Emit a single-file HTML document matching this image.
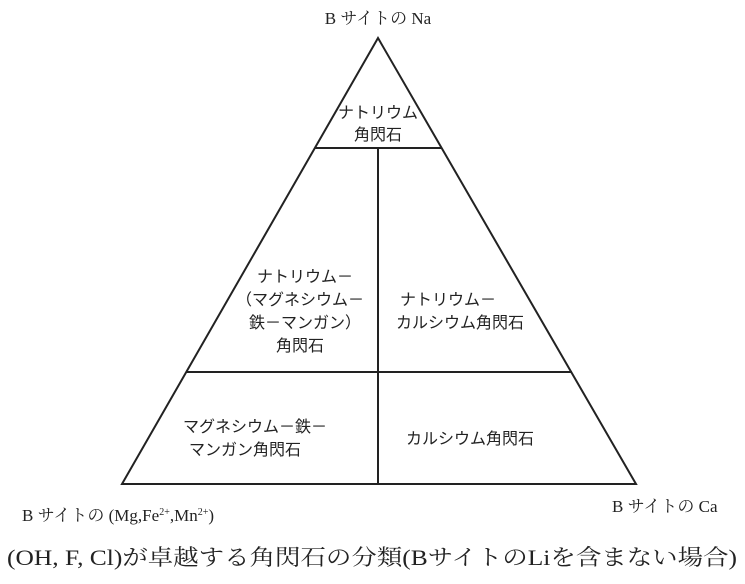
<!DOCTYPE html>
<html><head><meta charset="utf-8"><style>
body{margin:0;background:#fff;}
svg text{font-family:"Liberation Serif","Noto Serif CJK JP","Noto Serif CJK SC",serif;fill:#222;}
.s{font-family:"Liberation Sans","Noto Sans CJK JP",sans-serif !important;font-size:16px;}
</style></head><body>
<svg width="745" height="579" viewBox="0 0 745 579" xmlns="http://www.w3.org/2000/svg">
<g stroke="#222" stroke-width="2" fill="none">
<polygon points="378,38 122,484 636,484"/>
<line x1="315" y1="148" x2="441" y2="148"/>
<line x1="186" y1="372" x2="572" y2="372"/>
<line x1="378" y1="148" x2="378" y2="484"/>
</g>
<text x="378" y="24" text-anchor="middle" font-size="17">B サイトの Na</text>
<text class="s" x="378" y="118" text-anchor="middle">ナトリウム</text>
<text class="s" x="378" y="140" text-anchor="middle">角閃石</text>
<text class="s" x="305" y="282" text-anchor="middle">ナトリウム－</text>
<text class="s" x="300" y="305" text-anchor="middle">（マグネシウム－</text>
<text class="s" x="305" y="328" text-anchor="middle">鉄－マンガン）</text>
<text class="s" x="300" y="351" text-anchor="middle">角閃石</text>
<text class="s" x="448" y="305" text-anchor="middle">ナトリウム－</text>
<text class="s" x="460" y="328" text-anchor="middle">カルシウム角閃石</text>
<text class="s" x="255" y="432" text-anchor="middle">マグネシウム－鉄－</text>
<text class="s" x="245" y="455" text-anchor="middle">マンガン角閃石</text>
<text class="s" x="470" y="444" text-anchor="middle">カルシウム角閃石</text>
<text x="22" y="521" font-size="17">B サイトの (Mg,Fe<tspan font-size="10" dy="-6">2+</tspan><tspan dy="6">,Mn</tspan><tspan font-size="10" dy="-6">2+</tspan><tspan dy="6">)</tspan></text>
<text x="612" y="512" font-size="17">B サイトの Ca</text>
<text x="372" y="565" text-anchor="middle" font-size="22" font-weight="normal" textLength="730" lengthAdjust="spacingAndGlyphs">(OH, F, Cl)が卓越する角閃石の分類(BサイトのLiを含まない場合)</text>
</svg>
</body></html>
